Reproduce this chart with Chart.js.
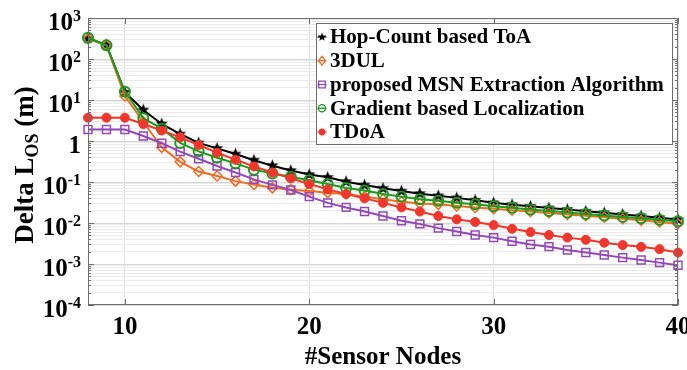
<!DOCTYPE html>
<html>
<head>
<meta charset="utf-8">
<script src="https://cdn.jsdelivr.net/npm/chart.js@4/dist/chart.umd.min.js"></script>
<style>
  html, body { margin: 0; padding: 0; background: #ffffff; }
  #wrap { width: 687px; height: 370px; }
</style>
</head>
<body>
<div id="wrap"><canvas id="c" width="687" height="370"></canvas></div>
<script>
// Number of sensor nodes (x axis)
const nodes = [8, 9, 10, 11, 12, 13, 14, 15, 16, 17, 18, 19, 20, 21, 22, 23, 24,
               25, 26, 27, 28, 29, 30, 31, 32, 33, 34, 35, 36, 37, 38, 39, 40];

// Delta L_OS (m) per method
const hopCountToA = [320, 220, 15.5, 5.7, 2.6, 1.48, 0.90, 0.66, 0.48, 0.34, 0.25, 0.19, 0.152,
                     0.13, 0.102, 0.084, 0.070, 0.060, 0.052, 0.046, 0.041, 0.036, 0.031,
                     0.028, 0.0255, 0.0233, 0.0213, 0.0193, 0.0177, 0.0162, 0.0148, 0.0134, 0.0121];
const dul3D = [310, 215, 12.5, 2.9, 0.70, 0.31, 0.18, 0.14, 0.105, 0.087, 0.072, 0.065, 0.060,
               0.055, 0.051, 0.044, 0.038, 0.033, 0.030, 0.0285, 0.026, 0.024, 0.0222,
               0.0205, 0.019, 0.0175, 0.0162, 0.015, 0.0138, 0.0127, 0.0116, 0.0106, 0.0096];
const msnExtraction = [1.9, 1.9, 1.9, 1.32, 0.88, 0.55, 0.37, 0.245, 0.17, 0.116, 0.085, 0.064, 0.044,
                       0.031, 0.024, 0.019, 0.0148, 0.0114, 0.0095, 0.0075, 0.0062, 0.0051, 0.0044,
                       0.0036, 0.0030, 0.00265, 0.0022, 0.0019, 0.00166, 0.00143, 0.00125, 0.00108, 0.00093];
const gradientLoc = [330, 215, 16, 3.6, 2.0, 0.9, 0.56, 0.39, 0.285, 0.20, 0.162, 0.135, 0.11,
                     0.089, 0.071, 0.062, 0.051, 0.044, 0.038, 0.035, 0.031, 0.0285, 0.0255,
                     0.0234, 0.0214, 0.0197, 0.0181, 0.0166, 0.0153, 0.0141, 0.013, 0.012, 0.011];
const tdoa = [3.7, 3.7, 3.7, 2.6, 1.8, 1.23, 0.80, 0.52, 0.35, 0.24, 0.17, 0.123, 0.089,
              0.066, 0.051, 0.040, 0.031, 0.024, 0.019, 0.0148, 0.0123, 0.0106, 0.0089,
              0.0072, 0.0060, 0.0051, 0.0044, 0.0039, 0.0033, 0.0029, 0.00262, 0.0023, 0.0019];

const seriesNames = ['Hop-Count based ToA', '3DUL', 'proposed MSN Extraction Algorithm',
                     'Gradient based Localization', 'TDoA'];
const xTickValues = [10, 20, 30, 40];
const yDecadeExponents = [-4, -3, -2, -1, 0, 1, 2, 3];
const xTitle = '#Sensor Nodes';

const SERIF = '"Liberation Serif", "Times New Roman", serif';
const COLORS = ['#000000', '#F26B21', '#9448BC', '#1D9A1D', '#F2362B'];

// filled five-point star used as the ToA marker
function pentagram(r, color) {
  const s = Math.ceil(r * 2 + 2);
  const cv = document.createElement('canvas');
  cv.width = s; cv.height = s;
  const c = cv.getContext('2d');
  c.fillStyle = color;
  c.beginPath();
  for (let i = 0; i < 10; i++) {
    const a = -Math.PI / 2 + i * Math.PI / 5;
    const rr = i % 2 ? r * 0.42 : r;
    c.lineTo(s / 2 + rr * Math.cos(a), s / 2 + rr * Math.sin(a));
  }
  c.closePath();
  c.fill();
  return cv;
}
const starBig = pentagram(6.5, COLORS[0]);

const pts = arr => nodes.map((x, i) => ({ x: x, y: arr[i] }));

const datasets = [
  { label: seriesNames[0], data: pts(hopCountToA), borderColor: COLORS[0], borderWidth: 2,
    pointStyle: starBig, pointRadius: 6, order: 4 },
  { label: seriesNames[1], data: pts(dul3D), borderColor: COLORS[1], borderWidth: 2,
    pointStyle: 'rectRot', pointRadius: 5, pointBorderWidth: 1.5,
    pointBackgroundColor: 'rgba(0,0,0,0)', pointBorderColor: COLORS[1], order: 3 },
  { label: seriesNames[2], data: pts(msnExtraction), borderColor: COLORS[2], borderWidth: 2,
    pointStyle: 'rect', pointRadius: 5.6, pointBorderWidth: 1.5,
    pointBackgroundColor: 'rgba(0,0,0,0)', pointBorderColor: COLORS[2], order: 2 },
  { label: seriesNames[3], data: pts(gradientLoc), borderColor: COLORS[3], borderWidth: 2,
    pointStyle: 'circle', pointRadius: 5, pointBorderWidth: 2,
    pointBackgroundColor: 'rgba(0,0,0,0)', pointBorderColor: COLORS[3], order: 1 },
  { label: seriesNames[4], data: pts(tdoa), borderColor: COLORS[4], borderWidth: 2,
    pointStyle: 'circle', pointRadius: 4.5, pointBorderWidth: 1,
    pointBackgroundColor: COLORS[4], pointBorderColor: COLORS[4], order: 0 }
];
datasets.forEach(d => { d.clip = false; d.tension = 0; d.fill = false; });

function isDecade(v) {
  const l = Math.log10(v);
  return Math.abs(l - Math.round(l)) < 1e-9;
}

// marker shapes for the legend box
function legendMarker(ctx, i, x, y) {
  const col = COLORS[i];
  ctx.save();
  ctx.strokeStyle = col; ctx.fillStyle = col; ctx.lineWidth = 1.3;
  ctx.beginPath(); ctx.moveTo(x - 4.5, y); ctx.lineTo(x + 4.5, y); ctx.stroke();
  ctx.beginPath();
  if (i === 0) {
    for (let k = 0; k < 10; k++) {
      const a = -Math.PI / 2 + k * Math.PI / 5;
      const rr = k % 2 ? 1.9 : 4.5;
      ctx.lineTo(x + rr * Math.cos(a), y + rr * Math.sin(a));
    }
    ctx.closePath(); ctx.fill();
  } else if (i === 1) {
    ctx.moveTo(x, y - 4.5); ctx.lineTo(x + 3.5, y); ctx.lineTo(x, y + 4.5); ctx.lineTo(x - 3.5, y);
    ctx.closePath(); ctx.stroke();
  } else if (i === 2) {
    ctx.rect(x - 3.3, y - 3.3, 6.6, 6.6); ctx.stroke();
  } else if (i === 3) {
    ctx.arc(x, y, 3.6, 0, Math.PI * 2); ctx.stroke();
  } else {
    ctx.arc(x, y, 3.4, 0, Math.PI * 2); ctx.fill();
  }
  ctx.restore();
}

const framePlugin = {
  id: 'frame',
  afterDraw(chart) {
    const ctx = chart.ctx;
    const a = chart.chartArea;
    const xs = chart.scales.x, ys = chart.scales.y;
    ctx.save();

    // axes box with inward ticks
    ctx.strokeStyle = '#6e6e6e';
    ctx.lineWidth = 1;
    ctx.strokeRect(a.left + 0.5, a.top + 0.5, a.right - a.left - 1, a.bottom - a.top - 1);
    ctx.beginPath();
    xTickValues.forEach(v => {
      const px = Math.round(xs.getPixelForValue(v)) + 0.5;
      ctx.moveTo(px, a.bottom); ctx.lineTo(px, a.bottom - 6);
      ctx.moveTo(px, a.top); ctx.lineTo(px, a.top + 6);
    });
    ys.ticks.forEach(t => {
      const py = Math.round(ys.getPixelForValue(t.value)) + 0.5;
      const len = isDecade(t.value) ? 6 : 3;
      ctx.moveTo(a.left, py); ctx.lineTo(a.left + len, py);
      ctx.moveTo(a.right, py); ctx.lineTo(a.right - len, py);
    });
    ctx.stroke();

    ctx.fillStyle = '#000000';
    // x tick labels
    ctx.font = 'bold 25px ' + SERIF;
    ctx.textAlign = 'center';
    ctx.textBaseline = 'alphabetic';
    xTickValues.forEach(v => {
      ctx.fillText(String(v), xs.getPixelForValue(v), a.bottom + 29);
    });

    // x title
    ctx.font = 'bold 25px ' + SERIF;
    ctx.fillText(xTitle, (a.left + a.right) / 2, 364);

    // y tick labels: 10 with a raised exponent
    const rightEdge = 81;
    yDecadeExponents.forEach(e => {
      const py = ys.getPixelForValue(Math.pow(10, e));
      ctx.textAlign = 'right';
      if (e === 0) {
        ctx.font = 'bold 25px ' + SERIF;
        ctx.fillText('1', rightEdge, py + 12);
        return;
      }
      const expText = e < 0 ? '-' + Math.abs(e) : String(e);
      ctx.font = 'bold 16px ' + SERIF;
      const ew = ctx.measureText(expText).width;
      ctx.fillText(expText, rightEdge, py + 3);
      ctx.font = 'bold 25px ' + SERIF;
      ctx.fillText('10', rightEdge - ew, py + 12);
    });

    // y title, rotated, with subscript
    ctx.save();
    ctx.translate(33, 165);
    ctx.rotate(-Math.PI / 2);
    const big = 'bold 27px ' + SERIF, sub = 'bold 18px ' + SERIF;
    const p1 = 'Delta L', p2 = 'OS', p3 = ' (m)';
    ctx.font = big; const w1 = ctx.measureText(p1).width, w3 = ctx.measureText(p3).width;
    ctx.font = sub; const w2 = ctx.measureText(p2).width;
    let tx = -(w1 + w2 + w3) / 2;
    ctx.textAlign = 'left';
    ctx.font = big; ctx.fillText(p1, tx, 0); tx += w1;
    ctx.font = sub; ctx.fillText(p2, tx, 5); tx += w2;
    ctx.font = big; ctx.fillText(p3, tx, 0);
    ctx.restore();

    // legend box
    const lx = 316, ly = 23, lw = 356, lh = 121;
    ctx.fillStyle = '#ffffff';
    ctx.fillRect(lx, ly, lw, lh);
    ctx.strokeStyle = '#6e6e6e';
    ctx.strokeRect(lx + 0.5, ly + 0.5, lw, lh);
    ctx.font = 'bold 21px ' + SERIF;
    ctx.textAlign = 'left';
    ctx.textBaseline = 'middle';
    seriesNames.forEach((name, i) => {
      const ry = 37 + i * 23.75;
      legendMarker(ctx, i, 322, ry);
      ctx.fillStyle = '#000000';
      ctx.fillText(name, 330, ry + 1);
    });

    ctx.restore();
  }
};

new Chart(document.getElementById('c'), {
  type: 'line',
  data: { datasets: datasets },
  options: {
    responsive: false,
    animation: false,
    devicePixelRatio: 1,
    layout: { padding: { top: 18, right: 9, left: 0, bottom: 0 } },
    plugins: { legend: { display: false }, tooltip: { enabled: false } },
    scales: {
      x: {
        type: 'linear', min: 8, max: 40,
        afterBuildTicks(scale) { scale.ticks = xTickValues.map(v => ({ value: v })); },
        afterFit(scale) { scale.height = 65; },
        ticks: { display: false },
        grid: { color: '#e0e0e0', drawTicks: false },
        border: { display: false }
      },
      y: {
        type: 'logarithmic', min: 1e-4, max: 1e3,
        afterBuildTicks(scale) {
          const t = [];
          for (let e = -4; e < 3; e++) for (let m = 1; m < 10; m++) t.push({ value: m * Math.pow(10, e) });
          t.push({ value: 1000 });
          scale.ticks = t;
        },
        afterFit(scale) { scale.width = 88; },
        ticks: { display: false },
        grid: {
          drawTicks: false,
          color: c => (c.tick && isDecade(c.tick.value)) ? '#d6d6d6' : '#ebebeb'
        },
        border: { display: false }
      }
    }
  },
  plugins: [framePlugin]
});
</script>
</body>
</html>
